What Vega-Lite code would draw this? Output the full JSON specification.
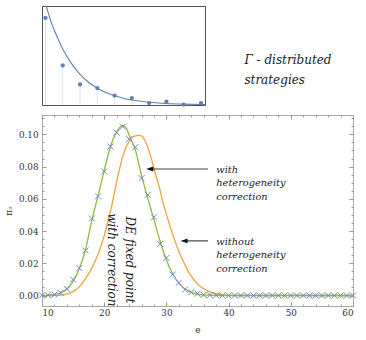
{
  "$schema": "https://vega.github.io/schema/vega-lite/v6.json",
  "padding": {"left": 3, "top": 3, "right": 4, "bottom": 2},
  "config": {"view": {"stroke": null}, "font": "DejaVu Serif"},
  "datasets": {
    "inset": [
      {"k": 0, "p": 0.879}, {"k": 1, "p": 0.40}, {"k": 2, "p": 0.208}, {"k": 3, "p": 0.171},
      {"k": 4, "p": 0.095}, {"k": 5, "p": 0.070}, {"k": 6, "p": 0.020}, {"k": 7, "p": 0.034},
      {"k": 8, "p": 0.004}, {"k": 9, "p": 0.020}
    ],
    "insetCurve": [
      {"k": 0.05, "p": 1.0}, {"k": 0.25, "p": 0.88}, {"k": 0.5, "p": 0.76}, {"k": 0.75, "p": 0.66},
      {"k": 1, "p": 0.565}, {"k": 1.5, "p": 0.42}, {"k": 2, "p": 0.31}, {"k": 2.5, "p": 0.23},
      {"k": 3, "p": 0.17}, {"k": 3.5, "p": 0.126}, {"k": 4, "p": 0.094}, {"k": 4.5, "p": 0.069},
      {"k": 5, "p": 0.051}, {"k": 5.5, "p": 0.038}, {"k": 6, "p": 0.028}, {"k": 7, "p": 0.0155},
      {"k": 8, "p": 0.0085}, {"k": 9, "p": 0.0047}, {"k": 9.23, "p": 0.004}
    ],
    "markers": [
      {"e": 10, "v": 0.0002}, {"e": 11, "v": 0.0003}, {"e": 12, "v": 0.0006}, {"e": 13, "v": 0.0016},
      {"e": 14, "v": 0.0042}, {"e": 15, "v": 0.0099}, {"e": 16, "v": 0.017}, {"e": 17, "v": 0.028},
      {"e": 18, "v": 0.0478}, {"e": 19, "v": 0.0615}, {"e": 20, "v": 0.077}, {"e": 21, "v": 0.0924},
      {"e": 22, "v": 0.101}, {"e": 23, "v": 0.1048}, {"e": 24, "v": 0.097}, {"e": 25, "v": 0.092},
      {"e": 26, "v": 0.0728}, {"e": 27, "v": 0.0625}, {"e": 28, "v": 0.0485}, {"e": 29, "v": 0.032},
      {"e": 30, "v": 0.0233}, {"e": 31, "v": 0.013}, {"e": 32, "v": 0.0079}, {"e": 33, "v": 0.0037},
      {"e": 34, "v": 0.002}, {"e": 35, "v": 0.0011}, {"e": 36, "v": 0.0005}, {"e": 37, "v": 0.0002},
      {"e": 38, "v": 0.0001}, {"e": 39, "v": 0}, {"e": 40, "v": 0}, {"e": 41, "v": 0}, {"e": 42, "v": 0},
      {"e": 43, "v": 0}, {"e": 44, "v": 0}, {"e": 45, "v": 0}, {"e": 46, "v": 0}, {"e": 47, "v": 0},
      {"e": 48, "v": 0}, {"e": 49, "v": 0}, {"e": 50, "v": 0}, {"e": 51, "v": 0}, {"e": 52, "v": 0},
      {"e": 53, "v": 0}, {"e": 54, "v": 0}, {"e": 55, "v": 0}, {"e": 56, "v": 0}, {"e": 57, "v": 0},
      {"e": 58, "v": 0}, {"e": 59, "v": 0}, {"e": 60, "v": 0}
    ],
    "green": [
      {"e": 10, "v": 0.0001}, {"e": 11, "v": 0.0003}, {"e": 12, "v": 0.0007}, {"e": 13, "v": 0.0017},
      {"e": 14, "v": 0.004}, {"e": 15, "v": 0.0088}, {"e": 16, "v": 0.0168}, {"e": 17, "v": 0.0285},
      {"e": 18, "v": 0.0465}, {"e": 19, "v": 0.0618}, {"e": 20, "v": 0.0775}, {"e": 21, "v": 0.0925},
      {"e": 22, "v": 0.1015}, {"e": 22.5, "v": 0.1042}, {"e": 23, "v": 0.1055}, {"e": 23.5, "v": 0.1042},
      {"e": 24, "v": 0.0995}, {"e": 25, "v": 0.0905}, {"e": 26, "v": 0.0745}, {"e": 27, "v": 0.0605},
      {"e": 28, "v": 0.047}, {"e": 29, "v": 0.0335}, {"e": 30, "v": 0.022}, {"e": 31, "v": 0.0135},
      {"e": 32, "v": 0.0077}, {"e": 33, "v": 0.0041}, {"e": 34, "v": 0.002}, {"e": 35, "v": 0.0009},
      {"e": 36, "v": 0.0004}, {"e": 37, "v": 0.0002}, {"e": 38, "v": 0.0001}, {"e": 40, "v": 0},
      {"e": 60, "v": 0}
    ],
    "orange": [
      {"e": 10, "v": 0}, {"e": 12, "v": 0.0001}, {"e": 13, "v": 0.0003}, {"e": 14, "v": 0.0009},
      {"e": 15, "v": 0.0024}, {"e": 16, "v": 0.0055}, {"e": 17, "v": 0.0105}, {"e": 18, "v": 0.017},
      {"e": 19, "v": 0.0255}, {"e": 19.5, "v": 0.031}, {"e": 20, "v": 0.037}, {"e": 20.5, "v": 0.0445},
      {"e": 21, "v": 0.052}, {"e": 21.5, "v": 0.061}, {"e": 22, "v": 0.0705}, {"e": 22.5, "v": 0.079},
      {"e": 23, "v": 0.0865}, {"e": 23.5, "v": 0.092}, {"e": 24, "v": 0.0955}, {"e": 24.5, "v": 0.098},
      {"e": 25, "v": 0.099}, {"e": 25.5, "v": 0.0993}, {"e": 26, "v": 0.099}, {"e": 26.5, "v": 0.0965},
      {"e": 27, "v": 0.092}, {"e": 27.5, "v": 0.086}, {"e": 28, "v": 0.079}, {"e": 28.5, "v": 0.072},
      {"e": 29, "v": 0.065}, {"e": 29.5, "v": 0.057}, {"e": 30, "v": 0.0505}, {"e": 30.5, "v": 0.044},
      {"e": 31, "v": 0.038}, {"e": 31.5, "v": 0.0325}, {"e": 32, "v": 0.0275}, {"e": 32.5, "v": 0.023},
      {"e": 33, "v": 0.019}, {"e": 33.5, "v": 0.015}, {"e": 34, "v": 0.012}, {"e": 35, "v": 0.0072},
      {"e": 36, "v": 0.0042}, {"e": 37, "v": 0.0023}, {"e": 38, "v": 0.0011}, {"e": 39, "v": 0.0004},
      {"e": 40, "v": 0.0001}, {"e": 41, "v": 0}, {"e": 60, "v": 0}
    ],
    "vlabels": [
      {"label": "DE fixed point", "e": 24.15, "v": 0.0221},
      {"label": "with correction", "e": 21.22, "v": 0.0221}
    ],
    "notes": [
      {"label": "with\nheterogeneity\ncorrection", "e": 38.02, "v": 0.0779},
      {"label": "without\nheterogeneity\ncorrection", "e": 38.02, "v": 0.0334}
    ],
    "arrows": [
      {"e": 27.33, "e2": 36.69, "v": 0.0785},
      {"e": 32.84, "e2": 36.69, "v": 0.0339}
    ]
  },
  "spacing": 5,
  "vconcat": [
    {
      "spacing": 10,
      "hconcat": [
        {
          "width": 163,
          "height": 99,
          "view": {"stroke": "#555", "strokeWidth": 1},
          "layer": [
            {
              "data": {"name": "inset"},
              "mark": {"type": "rule", "color": "#dde3f0", "strokeWidth": 1},
              "encoding": {
                "x": {"field": "k", "type": "quantitative", "scale": {"domain": [-0.2, 9.23], "nice": false, "zero": false}, "axis": null},
                "y": {"field": "p", "type": "quantitative", "scale": {"domain": [0, 1], "nice": false}, "axis": null},
                "y2": {"datum": 0}
              }
            },
            {
              "data": {"name": "insetCurve"},
              "mark": {"type": "line", "color": "#5E81B5", "strokeWidth": 1.1, "interpolate": "monotone"},
              "encoding": {
                "x": {"field": "k", "type": "quantitative", "axis": null},
                "y": {"field": "p", "type": "quantitative", "axis": null}
              }
            },
            {
              "data": {"name": "inset"},
              "mark": {"type": "circle", "color": "#5E81B5", "size": 18, "opacity": 1},
              "encoding": {
                "x": {"field": "k", "type": "quantitative", "axis": null},
                "y": {"field": "p", "type": "quantitative", "axis": null}
              }
            }
          ]
        },
        {
          "width": 120,
          "height": 99,
          "data": {"values": [{"label": "Γ - distributed\nstrategies"}]},
          "mark": {"type": "text", "font": "DejaVu Serif", "align": "left", "baseline": "middle", "lineBreak": "\n", "lineHeight": 20, "fontStyle": "italic", "fontSize": 12, "color": "#222"},
          "encoding": {
            "text": {"field": "label"},
            "x": {"datum": 0.22, "type": "quantitative", "scale": {"domain": [0, 1]}, "axis": null},
            "y": {"datum": 0.457, "type": "quantitative", "scale": {"domain": [0, 1]}, "axis": null}
          }
        }
      ]
    },
    {
      "width": 311,
      "height": 191,
      "view": {"stroke": "#aaa", "strokeWidth": 1},
      "resolve": {"axis": {"x": "independent", "y": "independent"}},
      "layer": [
        {
          "data": {"name": "orange"},
          "mark": {"type": "line", "color": "#EFA33A", "strokeWidth": 1.3, "interpolate": "monotone"},
          "encoding": {
            "x": {"field": "e", "type": "quantitative", "scale": {"domain": [10, 60], "nice": false, "zero": false}, "axis": null},
            "y": {"field": "v", "type": "quantitative", "scale": {"domain": [-0.0065, 0.112], "nice": false, "zero": false}, "axis": null}
          }
        },
        {
          "data": {"name": "green"},
          "mark": {"type": "line", "color": "#93B83E", "strokeWidth": 1.3, "interpolate": "monotone"},
          "encoding": {
            "x": {
              "field": "e", "type": "quantitative",
              "axis": {
                "orient": "bottom",
                "values": [10, 12, 14, 16, 18, 20, 22, 24, 26, 28, 30, 32, 34, 36, 38, 40, 42, 44, 46, 48, 50, 52, 54, 56, 58, 60],
                "labelExpr": "datum.value % 10 === 0 ? '' + datum.value : ''",
                "tickSize": {"condition": {"test": "datum.value % 10 === 0", "value": -4}, "value": -2},
                "tickColor": "#999", "domain": false, "grid": false, "labelOverlap": false,
                "labelPadding": 6, "labelFont": "DejaVu Serif", "labelFontSize": 8.8, "labelColor": "#333",
                "title": "e", "titleFont": "DejaVu Serif", "titleFontSize": 9, "titleFontWeight": "normal", "titleColor": "#333", "titlePadding": 7
              }
            },
            "y": {
              "field": "v", "type": "quantitative",
              "axis": {
                "orient": "left",
                "values": [0, 0.005, 0.01, 0.015, 0.02, 0.025, 0.03, 0.035, 0.04, 0.045, 0.05, 0.055, 0.06, 0.065, 0.07, 0.075, 0.08, 0.085, 0.09, 0.095, 0.1, 0.105, 0.11],
                "labelExpr": "round(datum.value * 1000) % 20 === 0 ? format(datum.value, '.2f') : ''",
                "tickSize": {"condition": {"test": "round(datum.value * 1000) % 20 === 0", "value": -4}, "value": -2},
                "tickColor": "#999", "domain": false, "grid": false, "labelOverlap": false,
                "labelPadding": 8, "labelFont": "DejaVu Serif", "labelFontSize": 8.8, "labelColor": "#333",
                "title": "πₑ", "titleFont": "DejaVu Serif", "titleFontSize": 9, "titleFontWeight": "normal", "titleColor": "#333", "titlePadding": 5
              }
            }
          }
        },
        {
          "data": {"name": "markers"},
          "mark": {"type": "point", "shape": "M-1,-1L1,1M1,-1L-1,1", "filled": false, "color": "#6A8CC7", "strokeWidth": 1, "size": 36, "opacity": 1},
          "encoding": {
            "x": {
              "field": "e", "type": "quantitative",
              "axis": {
                "orient": "top",
                "values": [10, 12, 14, 16, 18, 20, 22, 24, 26, 28, 30, 32, 34, 36, 38, 40, 42, 44, 46, 48, 50, 52, 54, 56, 58, 60],
                "labels": false, "title": null,
                "tickSize": {"condition": {"test": "datum.value % 10 === 0", "value": -4}, "value": -2},
                "tickColor": "#999", "domain": false, "grid": false
              }
            },
            "y": {
              "field": "v", "type": "quantitative",
              "axis": {
                "orient": "right",
                "values": [0, 0.005, 0.01, 0.015, 0.02, 0.025, 0.03, 0.035, 0.04, 0.045, 0.05, 0.055, 0.06, 0.065, 0.07, 0.075, 0.08, 0.085, 0.09, 0.095, 0.1, 0.105, 0.11],
                "labels": false, "title": null,
                "tickSize": {"condition": {"test": "round(datum.value * 1000) % 20 === 0", "value": -4}, "value": -2},
                "tickColor": "#999", "domain": false, "grid": false
              }
            }
          }
        },
        {
          "mark": {"type": "rule", "color": "#3040E8", "strokeWidth": 1.2, "strokeDash": [5, 3]},
          "encoding": {
            "x": {"datum": 22.7, "type": "quantitative", "axis": null}
          }
        },
        {
          "data": {"name": "vlabels"},
          "mark": {"type": "text", "font": "DejaVu Serif", "angle": 90, "align": "center", "baseline": "middle", "fontStyle": "italic", "fontSize": 12, "color": "#222"},
          "encoding": {
            "text": {"field": "label"},
            "x": {"field": "e", "type": "quantitative", "axis": null},
            "y": {"field": "v", "type": "quantitative", "axis": null}
          }
        },
        {
          "data": {"name": "notes"},
          "mark": {"type": "text", "font": "DejaVu Serif", "align": "left", "baseline": "middle", "lineBreak": "\n", "lineHeight": 13.5, "fontStyle": "italic", "fontSize": 9.8, "color": "#222"},
          "encoding": {
            "text": {"field": "label"},
            "x": {"field": "e", "type": "quantitative", "axis": null},
            "y": {"field": "v", "type": "quantitative", "axis": null}
          }
        },
        {
          "data": {"name": "arrows"},
          "mark": {"type": "rule", "color": "#444", "strokeWidth": 1.2},
          "encoding": {
            "x": {"field": "e", "type": "quantitative", "axis": null},
            "x2": {"field": "e2"},
            "y": {"field": "v", "type": "quantitative", "axis": null}
          }
        },
        {
          "data": {"name": "arrows"},
          "mark": {"type": "point", "shape": "M-1,0L1,-0.7L1,0.7Z", "filled": true, "color": "#111", "size": 49, "opacity": 1},
          "encoding": {
            "x": {"field": "e", "type": "quantitative", "axis": null},
            "y": {"field": "v", "type": "quantitative", "axis": null}
          }
        }
      ]
    }
  ]
}
